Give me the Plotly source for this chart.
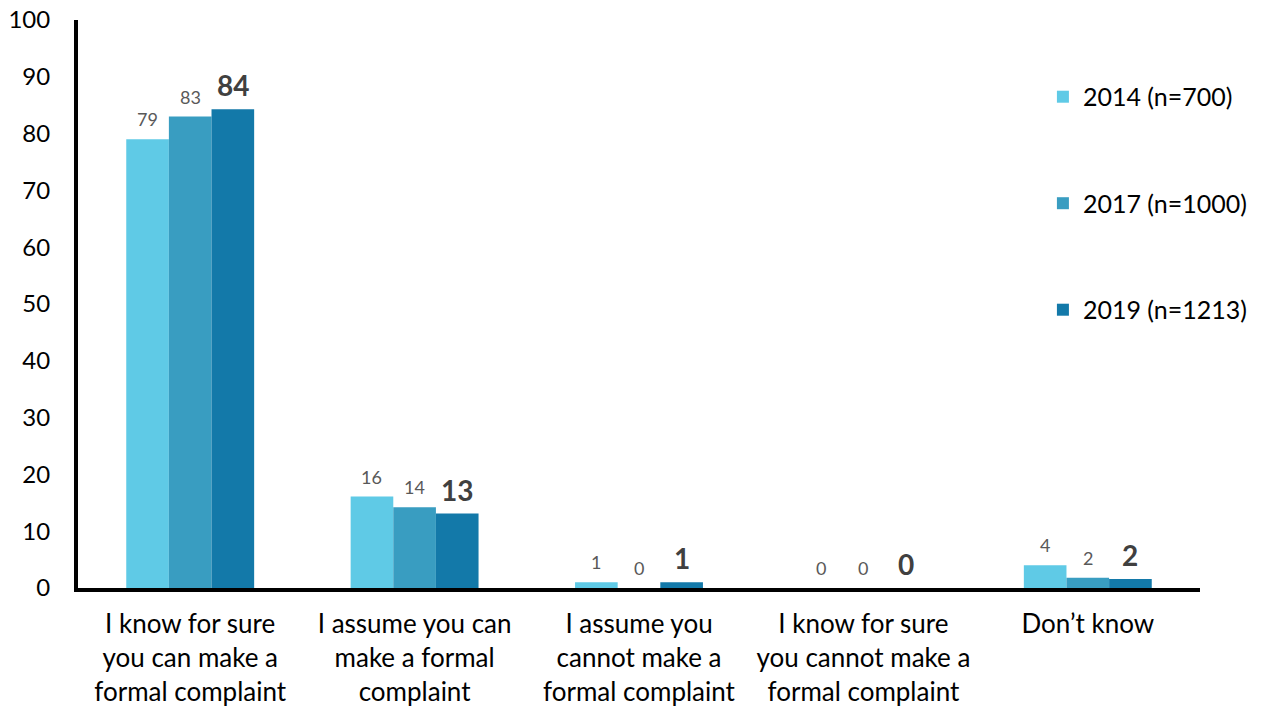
import plotly.graph_objects as go

categories = [
    "I know for sure<br>you can make a<br>formal complaint",
    "I assume you can<br>make a formal<br>complaint",
    "I assume you<br>cannot make a<br>formal complaint",
    "I know for sure<br>you cannot make a<br>formal complaint",
    "Don’t know",
]
series_names = ["2014 (n=700)", "2017 (n=1000)", "2019 (n=1213)"]
values_2014 = [79, 16.1, 1, 0, 4]
values_2017 = [83, 14.2, 0, 0, 1.8]
values_2019 = [84.3, 13.1, 1, 0, 1.6]
labels_2014 = ["79", "16", "1", "0", "4"]
labels_2017 = ["83", "14", "0", "0", "2"]
labels_2019 = ["84", "13", "1", "0", "2"]
colors = ["#5FCAE6", "#399DC1", "#1379A9"]
y_ticks = [0, 10, 20, 30, 40, 50, 60, 70, 80, 90, 100]

FONT = "Lato, 'Open Sans', sans-serif"
W, H = 1266, 710
ML, MR, MT, MB = 78, 66, 20, 122
BARGAP = 0.43

fig = go.Figure()
all_vals = [values_2014, values_2017, values_2019]
all_labels = [labels_2014, labels_2017, labels_2019]
for i, name in enumerate(series_names):
    fig.add_trace(go.Bar(
        x=categories, y=all_vals[i], name=name,
        marker=dict(color=colors[i], line=dict(width=0)),
        legendgroup=name, hoverinfo="x+y+name",
    ))

# data labels placed above each bar via annotations (offset in pixels per series)
plot_w = W - ML - MR
bar_px = plot_w / len(categories) * (1 - BARGAP) / len(series_names)
for i in range(len(series_names)):
    bold = i == 2
    for c, v, lab in zip(categories, all_vals[i], all_labels[i]):
        fig.add_annotation(
            x=c, y=v, xref="x", yref="y", text=lab, showarrow=False,
            xshift=(i - 1) * bar_px, yshift=5 if bold else 7,
            yanchor="bottom",
            font=dict(family=FONT, size=28 if bold else 18,
                      color="#404040" if bold else "#595959",
                      weight="bold" if bold else "normal"),
        )

fig.update_layout(
    width=W, height=H,
    margin=dict(l=ML, r=MR, t=MT, b=MB, autoexpand=False),
    paper_bgcolor="white", plot_bgcolor="white",
    barmode="group", bargap=BARGAP, bargroupgap=0,
    font=dict(family=FONT, size=24, color="#000000"),
    legend=dict(x=0.860, xanchor="left", y=0.905, yanchor="top",
                font=dict(size=25, color="#000000"),
                tracegroupgap=71, itemwidth=30),
    xaxis=dict(showline=True, linecolor="black", linewidth=4,
               ticks="", tickfont=dict(size=26, color="#000000"),
               showgrid=False, ticklabelstandoff=10, automargin=False),
    yaxis=dict(range=[0, 100], tickvals=y_ticks, showline=True,
               linecolor="black", linewidth=4, ticks="", showgrid=False,
               zeroline=False, tickfont=dict(size=24, color="#000000"),
               ticklabelstandoff=19, automargin=False),
)
fig.write_html("out.html")
